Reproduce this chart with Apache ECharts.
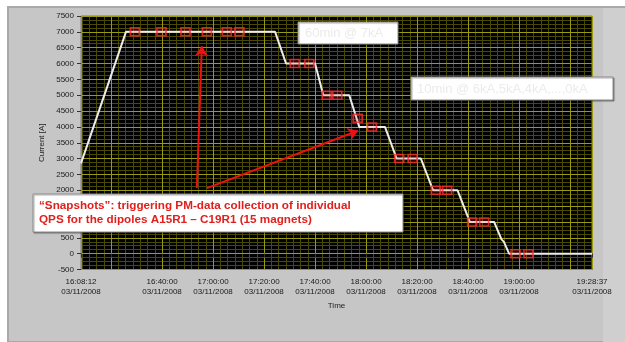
<!DOCTYPE html>
<html>
<head>
<meta charset="utf-8">
<script src="https://cdn.jsdelivr.net/npm/echarts@6/dist/echarts.min.js"></script>
<style>
  html, body { margin: 0; padding: 0; background: #ffffff; }
  #chart { width: 625px; height: 342px; }
</style>
</head>
<body>
<div id="chart"></div>
<script>
// Dipole circuit current during the 7 kA plateau and the 1 kA step-down (03/11/2008)
const DAY = '03/11/2008';

// Measured current trace
const traceTimes = ['16:08:12', '16:25:50', '17:24:19', '17:28:37', '17:40:00', '17:43:14',
  '17:53:25', '17:57:20', '18:07:25', '18:12:00', '18:21:30', '18:26:18', '18:35:53',
  '18:40:43', '18:50:13', '18:53:07', '18:54:01', '18:56:06', '19:28:37'];
const traceCurrent = [2850, 7000, 7000, 6000, 6000, 5000,
  5000, 4000, 4000, 3000, 3000, 2000, 2000,
  1000, 1000, 450, 380, 0, 0];

// PM-data snapshots
const snapTimes = ['16:29:21', '16:39:46', '16:49:11', '16:57:34', '17:05:23', '17:10:20',
  '17:32:02', '17:37:45', '17:44:34', '17:48:43', '17:56:43', '18:02:19',
  '18:13:00', '18:18:16', '18:27:23', '18:31:49', '18:41:37', '18:46:19',
  '18:58:37', '19:03:42'];
const snapCurrent = [7000, 7000, 7000, 7000, 7000, 7000,
  6000, 6000, 5000, 5000, 4270, 4000,
  3000, 3000, 2000, 2000, 1000, 1000,
  0, 0];

// Time axis ticks and labels
const axisStart = '16:08:12';
const axisEnd = '19:28:37';
const tickTimes = ['16:08:12', '16:20:00', '16:40:00', '17:00:00', '17:20:00', '17:40:00',
  '18:00:00', '18:20:00', '18:40:00', '19:00:00', '19:20:00', '19:28:37'];
const labelTimes = ['16:08:12', '16:40:00', '17:00:00', '17:20:00', '17:40:00',
  '18:00:00', '18:20:00', '18:40:00', '19:00:00', '19:28:37'];

// Current axis
const currentMin = -500;
const currentMax = 7500;
const currentStep = 500;

// Annotation arrows: [from time, from current, to time, to current]
const arrowA = ['16:53:38', 2070, '16:55:36', 6550];
const arrowB = ['16:57:34', 2070, '17:56:50', 3880];

function toSec(t) {
  const p = t.split(':').map(Number);
  return p[0] * 3600 + p[1] * 60 + p[2];
}
function pad(n) { return (n < 10 ? '0' : '') + n; }
function fmtTime(v) {
  const s = Math.round(v);
  return pad(Math.floor(s / 3600)) + ':' + pad(Math.floor(s / 60) % 60) + ':' + pad(s % 60);
}

const xMin = toSec(axisStart);
const xMax = toSec(axisEnd);

// fine vertical grid: 7 divisions per 20 minutes
const fineGrid = [];
for (let k = 0; ; k++) {
  const v = 16 * 3600 + k * 1200 / 7;
  if (v > xMax) break;
  if (v >= xMin) fineGrid.push(v);
}

const traceData = traceTimes.map((t, i) => [toSec(t), traceCurrent[i]]);
const snapData = snapTimes.map((t, i) => [toSec(t), snapCurrent[i]]);

const FONT = 'Liberation Sans, Arial, sans-serif';
const chart = echarts.init(document.getElementById('chart'), null, { renderer: 'canvas' });

const boxStyle = { fill: '#ffffff', stroke: '#8c8c8c', lineWidth: 1,
  shadowColor: 'rgba(0,0,0,0.35)', shadowOffsetX: 1, shadowOffsetY: 1, shadowBlur: 1 };

const option = {
  backgroundColor: '#ffffff',
  animation: false,
  grid: {
    left: 81, right: 33, top: 16, bottom: 72.5,
    show: true, backgroundColor: '#000000', borderColor: '#7a7a7a', borderWidth: 1, z: 0
  },
  xAxis: [
    {
      type: 'value', min: xMin, max: xMax, z: 2,
      name: 'Time', nameLocation: 'middle', nameGap: 27,
      nameTextStyle: { fontFamily: FONT, fontSize: 8, color: '#222' },
      axisLine: { show: false },
      axisTick: { show: true, length: 4, customValues: tickTimes.map(toSec),
        lineStyle: { color: '#333', width: 1 } },
      axisLabel: { show: true, customValues: labelTimes.map(toSec), formatter: v => fmtTime(v) + '\n' + DAY,
        fontFamily: FONT, fontSize: 8, color: '#1a1a1a', lineHeight: 10, margin: 7 },
      splitLine: { show: true, lineStyle: { color: '#9a9a14', width: 1 } }
    },
    {
      type: 'value', min: xMin, max: xMax, z: 1, position: 'bottom',
      axisLine: { show: false },
      axisTick: { show: false, customValues: fineGrid },
      axisLabel: { show: false },
      splitLine: { show: true, lineStyle: { color: '#4a4a04', width: 1 } }
    }
  ],
  yAxis: {
    type: 'value', min: currentMin, max: currentMax, interval: currentStep, z: 2,
    name: 'Current [A]', nameLocation: 'middle', nameGap: 21,
    nameTextStyle: { fontFamily: FONT, fontSize: 8, color: '#222' },
    axisLine: { show: false },
    axisTick: { show: true, length: 4, lineStyle: { color: '#333' } },
    axisLabel: { fontFamily: FONT, fontSize: 8, color: '#1a1a1a', margin: 7, formatter: v => String(v) },
    splitLine: { show: true, lineStyle: { color: '#9a9a14', width: 1 } },
    minorTick: { show: false, splitNumber: 4 },
    minorSplitLine: { show: true, lineStyle: { color: '#4a4a04', width: 1 } }
  },
  series: [
    {
      type: 'line', data: traceData, xAxisIndex: 0, z: 3,
      showSymbol: false, symbol: 'none',
      lineStyle: { color: '#ececec', width: 2 },
      markLine: {
        silent: true, symbol: ['none', 'arrow'], symbolSize: 10,
        label: { show: false },
        lineStyle: { color: '#ee1111', width: 2, type: 'solid' },
        data: [
          [{ coord: [toSec(arrowA[0]), arrowA[1]] }, { coord: [toSec(arrowA[2]), arrowA[3]] }],
          [{ coord: [toSec(arrowB[0]), arrowB[1]] }, { coord: [toSec(arrowB[2]), arrowB[3]] }]
        ]
      }
    },
    {
      type: 'scatter', data: snapData, xAxisIndex: 0, z: 4,
      symbol: 'rect', symbolSize: [9, 8],
      itemStyle: { color: 'rgba(255,40,40,0.2)', borderColor: '#ff2b2b', borderWidth: 1.6 }
    }
  ],
  graphic: [
    // panel frame
    { type: 'rect', z: -10, silent: true, shape: { x: 8, y: 7, width: 617, height: 335 },
      style: { fill: '#c6c6c6', stroke: '#a9a9a9', lineWidth: 2 } },
    { type: 'rect', z: -9, silent: true, shape: { x: 603, y: 8, width: 22, height: 334 },
      style: { fill: '#cfcfcf' } },
    // plateau note
    { type: 'rect', z: 100, silent: true, shape: { x: 298, y: 22, width: 100, height: 22 }, style: boxStyle },
    { type: 'text', z: 101, silent: true, x: 305, y: 33, style: { text: '60min @ 7kA', fill: '#ebebeb',
      font: '13px ' + FONT, textVerticalAlign: 'middle' } },
    // step note
    { type: 'rect', z: 100, silent: true, shape: { x: 411, y: 77, width: 202, height: 23 }, style: boxStyle },
    { type: 'text', z: 101, silent: true, x: 417, y: 89, style: { text: '10min @ 6kA,5kA,4kA,...,0kA', fill: '#ebebeb',
      font: '13px ' + FONT, textVerticalAlign: 'middle' } },
    // snapshot note
    { type: 'rect', z: 100, silent: true, shape: { x: 33, y: 194, width: 370, height: 38 }, style: boxStyle },
    { type: 'text', z: 101, silent: true, x: 39, y: 206, style: { text: '\u201cSnapshots\u201d: triggering PM-data collection of individual',
      fill: '#e0201c', font: 'bold 11.7px ' + FONT, textVerticalAlign: 'middle' } },
    { type: 'text', z: 101, silent: true, x: 39, y: 220, style: { text: 'QPS for the dipoles A15R1 \u2013 C19R1 (15 magnets)',
      fill: '#e0201c', font: 'bold 11.7px ' + FONT, textVerticalAlign: 'middle' } }
  ]
};

chart.setOption(option);
</script>
</body>
</html>
